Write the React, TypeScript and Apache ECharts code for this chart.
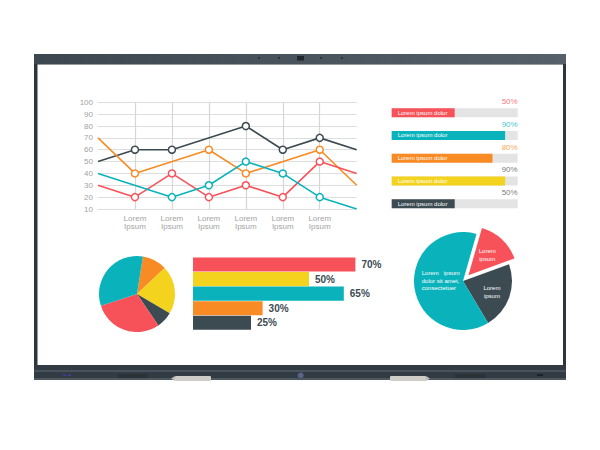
import React, { useEffect, useRef } from "react";
import * as echarts from "echarts";

const RED = "#f7525a";
const TEAL = "#0ab3bb";
const ORANGE = "#f88b24";
const YELLOW = "#f4d31f";
const DARK = "#3c4a52";

// Line chart
const lineCategories = ["", "Lorem\nIpsum", "Lorem\nIpsum", "Lorem\nIpsum", "Lorem\nIpsum", "Lorem\nIpsum", "Lorem\nIpsum", ""];
const darkLine = [50, 60, 60, null, 80, 60, 70, 60];
const orangeLine = [70, 40, null, 60, 40, null, 60, 30];
const redLine = [30, 20, 40, 20, 30, 20, 50, 40];
const tealLine = [40, null, 20, 30, 50, 40, 20, 10];

// Progress bars
const progressLabels = ["Lorem ipsum dolor", "Lorem ipsum dolor", "Lorem ipsum dolor", "Lorem ipsum dolor", "Lorem ipsum dolor"];
const progressValues = [50, 90, 80, 90, 50];
const progressColors = [RED, TEAL, ORANGE, YELLOW, DARK];
const progressTextColors = [RED, TEAL, ORANGE, "#555555", "#555555"];

// Small pie
const pieNames = ["A", "B", "C", "D", "E"];
const pieValues = [10.5, 20.5, 7, 29.5, 32.5];
const pieColors = [ORANGE, YELLOW, DARK, RED, TEAL];

// Horizontal bars
const hbarCats = ["a", "b", "c", "d", "e"];
const hbarValues = [70, 50, 65, 30, 25];
const hbarColors = [RED, YELLOW, TEAL, ORANGE, DARK];

// Exploded pie
const pie2Names = ["slice-red", "slice-dark", "slice-teal"];
const pie2Texts = ["{t|Lorem\nipsum}", "{t|Lorem\nipsum}", "{l|Lorem   ipsum}\n{l|dolor sit amet,}\n{l|consectetuer}"];
const pie2Values = [15, 22, 63];
const pie2Colors = [RED, DARK, TEAL];

const FONT = "Liberation Sans, Arial, sans-serif";

function symbolItems(arr: (number | null)[]) {
  return arr.map((v, i) =>
    i === 0 || i === arr.length - 1 ? { value: v, symbol: "none" } : v
  );
}

function lineSeries(data: (number | null)[], color: string) {
  return {
    type: "line",
    xAxisIndex: 0,
    yAxisIndex: 0,
    data: symbolItems(data),
    connectNulls: true,
    symbol: "circle",
    symbolSize: 7,
    showSymbol: true,
    lineStyle: { color, width: 1.6 },
    itemStyle: { color: "#ffffff", borderColor: color, borderWidth: 1.5 },
    z: 6,
  };
}

export default function App() {
  const ref = useRef<HTMLDivElement>(null);
  useEffect(() => {
    document.body.style.margin = "0";
    const chart = echarts.init(ref.current!, null, { renderer: "svg" });
    const option: any = {
      animation: false,
      backgroundColor: "#ffffff",
      textStyle: { fontFamily: FONT },
      graphic: [
        // monitor body
        { type: "rect", z: -10, shape: { x: 34, y: 54, width: 532, height: 326, r: 2 }, style: { fill: "#2e363d" } },
        {
          type: "rect", z: -10, shape: { x: 34, y: 54, width: 532, height: 10 },
          style: {
            fill: new echarts.graphic.LinearGradient(0, 0, 1, 0, [
              { offset: 0, color: "#3d4750" },
              { offset: 1, color: "#55606a" },
            ]),
          },
        },
        { type: "rect", z: -10, shape: { x: 34, y: 365, width: 532, height: 15 }, style: { fill: "#323b43" } },
        { type: "rect", z: -10, shape: { x: 34, y: 370, width: 532, height: 2 }, style: { fill: "#46525c" } },
        { type: "rect", z: -10, shape: { x: 34, y: 378, width: 532, height: 2 }, style: { fill: "#4d5861" } },
        { type: "rect", z: -10, shape: { x: 118, y: 374, width: 30, height: 4 }, style: { fill: "#2a3137" } },
        { type: "rect", z: -10, shape: { x: 455, y: 374, width: 31, height: 4 }, style: { fill: "#2a3137" } },
        // screen
        { type: "rect", z: -9, shape: { x: 37.5, y: 64.5, width: 525.5, height: 300.5 }, style: { fill: "#ffffff" } },
        // camera & sensors
        { type: "rect", z: -9, shape: { x: 297, y: 56, width: 7, height: 4.5 }, style: { fill: "#20262b" } },
        { type: "circle", z: -9, shape: { cx: 259, cy: 58, r: 0.8 }, style: { fill: "#20262b" } },
        { type: "circle", z: -9, shape: { cx: 279, cy: 58, r: 0.8 }, style: { fill: "#20262b" } },
        { type: "circle", z: -9, shape: { cx: 321, cy: 58, r: 0.8 }, style: { fill: "#20262b" } },
        { type: "circle", z: -9, shape: { cx: 342, cy: 58, r: 0.8 }, style: { fill: "#20262b" } },
        // bottom details
        { type: "rect", z: -9, shape: { x: 63, y: 374.5, width: 3, height: 1.5 }, style: { fill: "#3a3f9a" } },
        { type: "rect", z: -9, shape: { x: 68, y: 374.5, width: 3, height: 1.5 }, style: { fill: "#3a3f9a" } },
        { type: "rect", z: -9, shape: { x: 537, y: 374, width: 6, height: 2 }, style: { fill: "#1d2226" } },
        { type: "circle", z: -9, shape: { cx: 300.7, cy: 375.5, r: 3.2 }, style: { fill: "#5b6584", stroke: "#3b4258", lineWidth: 0.8 } },
        // pens
        { type: "rect", z: -9, shape: { x: 175, y: 376, width: 36, height: 5, r: 1 }, style: { fill: "#cfcdc8" } },
        { type: "polygon", z: -9, shape: { points: [[175, 376], [175, 381], [171, 378.5]] }, style: { fill: "#bdbbb6" } },
        { type: "rect", z: -9, shape: { x: 390, y: 376, width: 36, height: 5, r: 1 }, style: { fill: "#cfcdc8" } },
        { type: "polygon", z: -9, shape: { points: [[426, 376], [426, 381], [430, 378.5]] }, style: { fill: "#bdbbb6" } },
      ],
      grid: [
        { left: 98, right: 243.3, top: 102.3, bottom: 241, containLabel: false },
        { left: 391.7, right: 82.3, top: 101.4, bottom: 235, containLabel: false },
        { left: 193, right: 175, top: 257.3, bottom: 120, containLabel: false },
      ],
      xAxis: [
        {
          gridIndex: 0,
          type: "category",
          z: 5,
          data: lineCategories,
          boundaryGap: false,
          axisLine: { show: false },
          axisTick: { show: false },
          axisLabel: { color: "#a3a3a3", fontSize: 8, lineHeight: 8.5, margin: 5, interval: 0, fontFamily: FONT },
          splitLine: {
            show: true,
            interval: (idx: number) => idx > 0 && idx < lineCategories.length - 1,
            lineStyle: { color: "#d6d6d6", width: 1.2 },
          },
        },
        { gridIndex: 1, type: "value", min: 0, max: 100, show: false },
        { gridIndex: 2, type: "value", min: 0, max: 100, show: false },
      ],
      yAxis: [
        {
          gridIndex: 0,
          type: "value",
          z: 5,
          min: 10,
          max: 100,
          interval: 10,
          axisLine: { show: false },
          axisTick: { show: false },
          axisLabel: { color: "#a3a3a3", fontSize: 8, margin: 5, fontFamily: FONT },
          splitLine: { lineStyle: { color: "#dedede", width: 1.2 } },
        },
        { gridIndex: 1, type: "category", data: progressLabels, inverse: true, show: false },
        { gridIndex: 2, type: "category", data: hbarCats, inverse: true, show: false },
      ],
      series: [
        lineSeries(darkLine, DARK),
        lineSeries(orangeLine, ORANGE),
        lineSeries(redLine, RED),
        lineSeries(tealLine, TEAL),
        {
          type: "bar",
          xAxisIndex: 1,
          yAxisIndex: 1,
          barWidth: 9,
          showBackground: true,
          backgroundStyle: { color: "#e4e4e4" },
          data: progressValues.map((v, i) => ({ value: v, itemStyle: { color: progressColors[i] } })),
          label: {
            show: true,
            position: "insideLeft",
            distance: 6,
            color: "#ffffff",
            fontSize: 6,
            fontFamily: FONT,
            formatter: (p: any) => progressLabels[p.dataIndex],
          },
        },
        {
          type: "scatter",
          xAxisIndex: 1,
          yAxisIndex: 1,
          symbolSize: 0.1,
          data: progressValues.map((v, i) => ({
            value: [100, i],
            label: { color: progressTextColors[i], formatter: v + "%" },
          })),
          label: {
            show: true,
            position: "left",
            distance: 0,
            offset: [0, -11],
            fontSize: 8,
            fontFamily: FONT,
          },
        },
        {
          type: "bar",
          xAxisIndex: 2,
          yAxisIndex: 2,
          barCategoryGap: "3%",
          data: hbarValues.map((v, i) => ({ value: v, itemStyle: { color: hbarColors[i] } })),
          label: {
            show: true,
            position: "right",
            distance: 6,
            color: DARK,
            fontSize: 10,
            fontWeight: "bold",
            fontFamily: FONT,
            formatter: "{c}%",
          },
        },
        {
          type: "pie",
          center: [137, 294],
          radius: 38,
          startAngle: 81,
          clockwise: true,
          label: { show: false },
          labelLine: { show: false },
          itemStyle: { borderWidth: 0 },
          data: pieValues.map((v, i) => ({ name: pieNames[i], value: v, itemStyle: { color: pieColors[i] } })),
        },
        {
          type: "pie",
          center: [463, 281],
          radius: 49,
          startAngle: 74,
          clockwise: true,
          selectedMode: "single",
          selectedOffset: 8,
          labelLine: { show: false },
          itemStyle: { borderWidth: 0 },
          label: {
            show: true,
            position: "inside",
            color: "#ffffff",
            fontSize: 6,
            lineHeight: 7.5,
            fontFamily: FONT,
            rich: {
              t: { color: "#ffffff", fontSize: 6, lineHeight: 7.5, align: "center", fontFamily: FONT },
              l: { color: "#ffffff", fontSize: 6, lineHeight: 7.5, align: "left", width: 44, fontFamily: FONT },
            },
          },
          data: pie2Values.map((v, i) => ({
            name: pie2Names[i],
            value: v,
            selected: i === 0,
            itemStyle: { color: pie2Colors[i] },
            label: {
              formatter: pie2Texts[i],
              offset: i === 2 ? [8, -4] : i === 0 ? [12, -5] : [3, 2],
            },
          })),
        },
      ],
    };
    chart.setOption(option);
    return () => chart.dispose();
  }, []);
  return <div ref={ref} style={{ position: "fixed", left: 0, top: 0, width: 600, height: 450 }} />;
}
